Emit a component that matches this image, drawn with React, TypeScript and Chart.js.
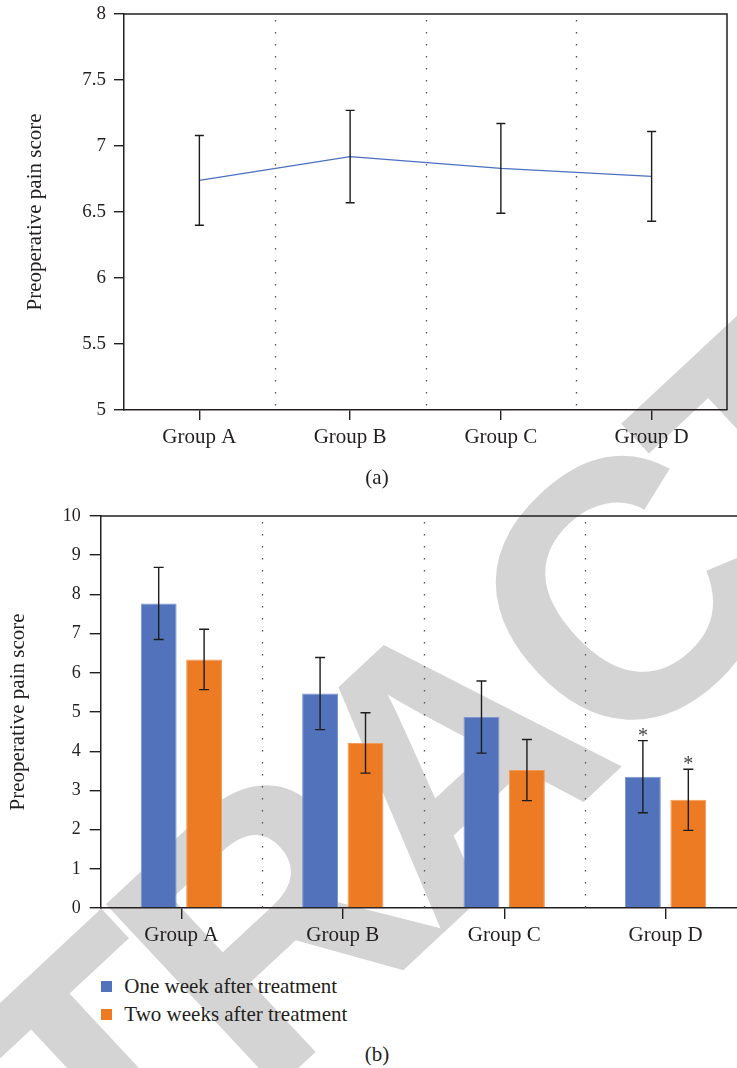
import React, { useEffect, useRef } from "react";
import { Chart, registerables } from "chart.js";

Chart.register(...registerables);

// ---------- data ----------
const groups = ["Group A", "Group B", "Group C", "Group D"];

const preopMean = [6.74, 6.92, 6.83, 6.77];
const preopError = [0.34, 0.35, 0.34, 0.34];
const preopTicks = [5, 5.5, 6, 6.5, 7, 7.5, 8];

const seriesNames = ["One week after treatment", "Two weeks after treatment"];
const oneWeekMean = [7.77, 5.47, 4.87, 3.35];
const oneWeekError = [0.92, 0.92, 0.92, 0.92];
const oneWeekMark = ["", "", "", "*"];
const twoWeeksMean = [6.34, 4.21, 3.52, 2.76];
const twoWeeksError = [0.77, 0.77, 0.78, 0.78];
const twoWeeksMark = ["", "", "", "*"];
const postTicks = [0, 1, 2, 3, 4, 5, 6, 7, 8, 9, 10];

const yTitle = "Preoperative pain score";
const captions = ["(a)", "(b)"];
const watermarkText = "RETRACTED";

// ---------- style ----------
const SERIF = "'Liberation Serif', 'Times New Roman', serif";
const INK = "#231f20";
const ERR = "#1c1c1c";
const LINE = "#4a70c0";
const BLUE = "#5273bb";
const BLUE_EDGE = "#7d96cf";
const ORANGE = "#ed7b23";
const ORANGE_EDGE = "#f29a58";
const DOT = "#555555";
const seriesColors = [BLUE, ORANGE];

const dividerPlugin = {
  id: "dividers",
  beforeDatasetsDraw(chart: any) {
    const { ctx, chartArea } = chart;
    const xs = chart.scales.x;
    const n = chart.data.labels.length;
    ctx.save();
    ctx.setLineDash([1.4, 10.6]);
    ctx.strokeStyle = DOT;
    ctx.lineWidth = 1.3;
    for (let i = 1; i < n; i++) {
      const px = Math.round((xs.getPixelForValue(i - 1) + xs.getPixelForValue(i)) / 2) + 0.5;
      ctx.beginPath();
      ctx.moveTo(px, chartArea.top + 6);
      ctx.lineTo(px, chartArea.bottom);
      ctx.stroke();
    }
    ctx.restore();
  },
};

const errorBarPlugin = {
  id: "errorBars",
  afterDatasetsDraw(chart: any) {
    const { ctx } = chart;
    const ys = chart.scales.y;
    chart.data.datasets.forEach((ds: any, di: number) => {
      if (!ds.errors) return;
      const meta = chart.getDatasetMeta(di);
      const cap = ds.capHalf ?? 5;
      ctx.save();
      ctx.strokeStyle = ERR;
      ctx.lineWidth = 1.4;
      meta.data.forEach((el: any, i: number) => {
        const v = ds.data[i];
        const e = ds.errors[i];
        const x = el.x;
        const yt = ys.getPixelForValue(v + e);
        const yb = ys.getPixelForValue(v - e);
        ctx.beginPath();
        ctx.moveTo(x, yt);
        ctx.lineTo(x, yb);
        ctx.moveTo(x - cap, yt);
        ctx.lineTo(x + cap, yt);
        ctx.moveTo(x - cap, yb);
        ctx.lineTo(x + cap, yb);
        ctx.stroke();
        const mark = ds.marks ? ds.marks[i] : "";
        if (mark) {
          ctx.fillStyle = "#444444";
          ctx.font = `20px ${SERIF}`;
          ctx.textAlign = "center";
          ctx.textBaseline = "alphabetic";
          ctx.fillText(mark, x, yt + 1);
        }
      });
      ctx.restore();
    });
  },
};

const framePlugin = {
  id: "frame",
  afterDraw(chart: any) {
    const { ctx, chartArea } = chart;
    ctx.save();
    ctx.strokeStyle = INK;
    ctx.lineWidth = 1.5;
    ctx.beginPath();
    ctx.moveTo(chartArea.left, chartArea.top);
    ctx.lineTo(chartArea.right, chartArea.top);
    ctx.lineTo(chartArea.right, chartArea.bottom);
    ctx.stroke();
    ctx.restore();
  },
};

function axisGrid(tick: number) {
  return { offset: false, drawOnChartArea: false, tickLength: tick, color: INK, lineWidth: 1.4 };
}

export default function App() {
  const refA = useRef<HTMLCanvasElement>(null);
  const refB = useRef<HTMLCanvasElement>(null);

  useEffect(() => {
    const chartA = new Chart(refA.current as HTMLCanvasElement, {
      type: "line",
      data: {
        labels: groups,
        datasets: [
          {
            label: yTitle,
            data: preopMean,
            errors: preopError,
            capHalf: 4.5,
            borderColor: LINE,
            borderWidth: 1.3,
            pointRadius: 0,
            fill: false,
            tension: 0,
          } as any,
        ],
      },
      options: {
        animation: false,
        responsive: false,
        layout: { padding: { left: 0, top: 20, right: 10, bottom: 0 } },
        plugins: { legend: { display: false }, tooltip: { enabled: false } },
        scales: {
          x: {
            type: "category",
            offset: true,
            grid: axisGrid(10) as any,
            border: { color: INK, width: 1.5 },
            ticks: { font: { family: SERIF, size: 21 }, color: INK, padding: 4.4, maxRotation: 0, autoSkip: false },
            afterFit: (s: any) => {
              s.height = 50;
            },
          },
          y: {
            type: "linear",
            min: 5,
            max: 8,
            afterBuildTicks: (s: any) => {
              s.ticks = preopTicks.map((v) => ({ value: v }));
            },
            grid: axisGrid(10) as any,
            border: { color: INK, width: 1.5 },
            ticks: { font: { family: SERIF, size: 19 }, color: INK, padding: 8, callback: (v: any) => String(v) },
            title: {
              display: true,
              text: yTitle,
              font: { family: SERIF, size: 21 },
              color: INK,
              padding: { top: 22.4, bottom: 0 },
            },
            afterFit: (s: any) => {
              s.width = 124;
            },
          },
        },
      },
      plugins: [dividerPlugin, errorBarPlugin, framePlugin],
    });

    const chartB = new Chart(refB.current as HTMLCanvasElement, {
      type: "bar",
      data: {
        labels: groups,
        datasets: [
          {
            label: seriesNames[0],
            data: oneWeekMean,
            errors: oneWeekError,
            marks: oneWeekMark,
            capHalf: 5,
            backgroundColor: BLUE,
            borderColor: BLUE_EDGE,
            borderWidth: 1,
            categoryPercentage: 0.563,
            barPercentage: 0.79,
          } as any,
          {
            label: seriesNames[1],
            data: twoWeeksMean,
            errors: twoWeeksError,
            marks: twoWeeksMark,
            capHalf: 5,
            backgroundColor: ORANGE,
            borderColor: ORANGE_EDGE,
            borderWidth: 1,
            categoryPercentage: 0.563,
            barPercentage: 0.79,
          } as any,
        ],
      },
      options: {
        animation: false,
        responsive: false,
        layout: { padding: { left: 0, top: 26, right: 33.7, bottom: 0 } },
        plugins: { legend: { display: false }, tooltip: { enabled: false } },
        scales: {
          x: {
            type: "category",
            offset: true,
            grid: axisGrid(11) as any,
            border: { color: INK, width: 1.5 },
            ticks: { font: { family: SERIF, size: 21 }, color: INK, padding: 4.2, maxRotation: 0, autoSkip: false },
            afterFit: (s: any) => {
              s.height = 62;
            },
          },
          y: {
            type: "linear",
            min: 0,
            max: 10,
            afterBuildTicks: (s: any) => {
              s.ticks = postTicks.map((v) => ({ value: v }));
            },
            grid: axisGrid(11) as any,
            border: { color: INK, width: 1.5 },
            ticks: { font: { family: SERIF, size: 18 }, color: INK, padding: 9, callback: (v: any) => String(v) },
            title: {
              display: true,
              text: yTitle,
              font: { family: SERIF, size: 21 },
              color: INK,
              padding: { top: 5.4, bottom: 0 },
            },
            afterFit: (s: any) => {
              s.width = 100.7;
            },
          },
        },
      },
      plugins: [dividerPlugin, errorBarPlugin, framePlugin],
    });

    return () => {
      chartA.destroy();
      chartB.destroy();
    };
  }, []);

  return (
    <div
      style={{
        position: "absolute",
        left: 0,
        top: 0,
        width: 737,
        height: 1068,
        overflow: "hidden",
        background: "#ffffff",
        fontFamily: SERIF,
        color: INK,
      }}
    >
      <svg width={737} height={1068} style={{ position: "absolute", left: 0, top: 0 }}>
        <text
          x={-226.3}
          y={1557.3}
          transform="rotate(-43 -226.3 1557.3)"
          fontFamily="'Liberation Sans', Arial, sans-serif"
          fontWeight="bold"
          fontSize={365}
          letterSpacing={-22}
          fill="#d4d4d4"
        >
          {watermarkText}
        </text>
      </svg>

      <canvas ref={refA} width={737} height={466} style={{ position: "absolute", left: 0, top: -6 }} />

      <div style={{ position: "absolute", left: 0, top: 490, width: 737, height: 480, overflow: "hidden" }}>
        <canvas ref={refB} width={780} height={480} style={{ position: "absolute", left: 0, top: 0 }} />
      </div>

      <div style={{ position: "absolute", left: 327, top: 463, width: 100, textAlign: "center", fontSize: 21, lineHeight: "28px" }}>
        {captions[0]}
      </div>

      <div style={{ position: "absolute", left: 101, top: 971.75, fontSize: 21 }}>
        {seriesNames.map((name, i) => (
          <div key={name} style={{ display: "flex", alignItems: "center", height: 28.5, lineHeight: "28.5px", whiteSpace: "nowrap" }}>
            <span style={{ display: "inline-block", width: 11, height: 11, background: seriesColors[i], marginRight: 12.3 }} />
            <span>{name}</span>
          </div>
        ))}
      </div>

      <div style={{ position: "absolute", left: 327, top: 1040, width: 100, textAlign: "center", fontSize: 21, lineHeight: "28px" }}>
        {captions[1]}
      </div>
    </div>
  );
}
